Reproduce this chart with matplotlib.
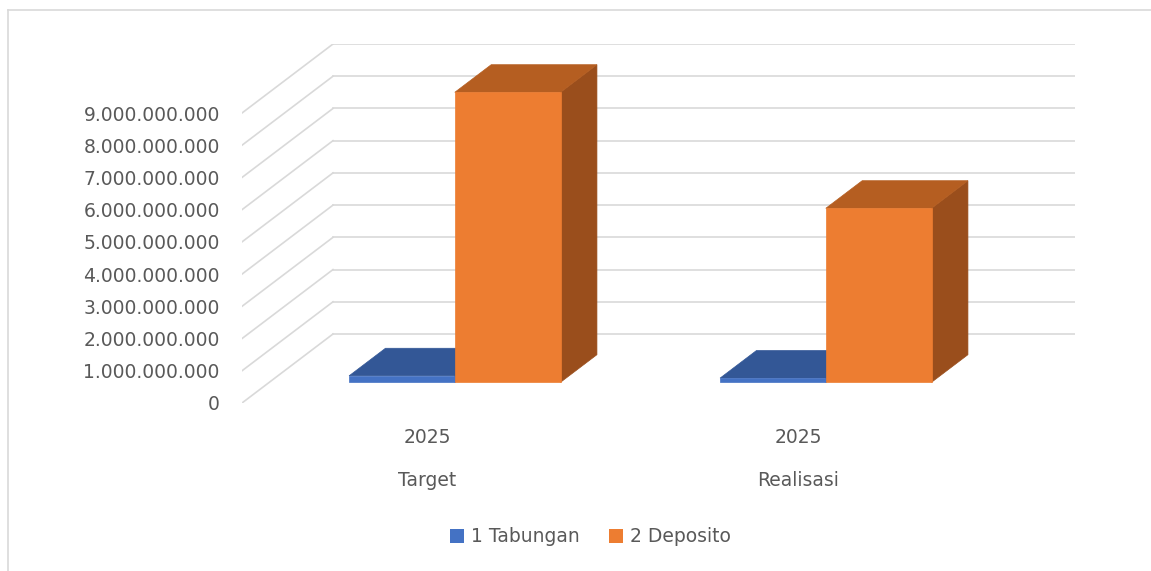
# -------------------------------------------------------------------
# plot.py: Excel-style 3D clustered column chart, Target vs Realisasi

import matplotlib
matplotlib.use('Agg')

import matplotlib.pyplot as plt
from matplotlib.patches import Polygon, Patch
from matplotlib.lines import Line2D
import numpy as np

# -------------------------------------------------------------------
# data
categories = ['Target', 'Realisasi']
years = ['2025', '2025']
series = ['1 Tabungan', '2 Deposito']
tabungan = [200_000_000, 130_000_000]
deposito = [9_000_000_000, 5_400_000_000]
y_ticks = [i * 1_000_000_000 for i in range(10)]

# colours (front, top, side)
faces = {
    '1 Tabungan': ('#4472C4', '#335796', '#2C4C84'),
    '2 Deposito': ('#ED7D31', '#B55E21', '#9A4E1C'),
}
grid_col = '#D9D9D9'
text_col = '#595959'

# -------------------------------------------------------------------
W, H = 1151, 571
fig = plt.figure(figsize=(W / 100, H / 100), dpi=100)
fig.patch.set_facecolor('white')

# depth of the 3D floor, in data units (x: categories, y: values)
ddx = 91 / 371
ddy = 69 / 32.22 * 1e9
ymax = y_ticks[-1]

ax = fig.add_axes([242 / W, (H - 403) / H, (1075 - 242) / W, (403 - 44) / H])
ax.set_xlim(0, len(categories) + ddx)
ax.set_ylim(0, ymax + ddy)
for s in ax.spines.values():
    s.set_visible(False)
ax.set_xticks([])
ax.set_yticks(y_ticks)
ax.set_yticklabels([f'{v:,}'.replace(',', '.') for v in y_ticks])
ax.tick_params(axis='y', length=0, pad=16, labelsize=13.5, labelcolor=text_col)

# walls: side diagonals and back horizontals
for v in y_ticks:
    ax.plot([0, ddx], [v, v + ddy], color=grid_col, lw=1.2, zorder=1)
    ax.plot([ddx, len(categories) + ddx], [v + ddy, v + ddy],
            color=grid_col, lw=1.2, zorder=1)


def bar3d(x0, w, h, d0, d1, cols):
    '''draw one box: front face, top face, right face'''
    fx, fy = d0 * ddx, d0 * ddy
    bx, by = d1 * ddx, d1 * ddy
    front = [(x0 + fx, fy), (x0 + w + fx, fy), (x0 + w + fx, h + fy), (x0 + fx, h + fy)]
    top = [(x0 + fx, h + fy), (x0 + w + fx, h + fy), (x0 + w + bx, h + by), (x0 + bx, h + by)]
    side = [(x0 + w + fx, fy), (x0 + w + bx, by), (x0 + w + bx, h + by), (x0 + w + fx, h + fy)]
    ax.add_patch(Polygon(side, closed=True, fc=cols[2], ec=cols[2], lw=0.5, zorder=3))
    ax.add_patch(Polygon(top, closed=True, fc=cols[1], ec=cols[1], lw=0.5, zorder=3))
    ax.add_patch(Polygon(front, closed=True, fc=cols[0], ec=cols[0], lw=0.5, zorder=3))


bw = 0.285
for i in range(len(categories)):
    c = i + 0.5
    bar3d(c - bw, bw, tabungan[i], 0.3, 0.7, faces['1 Tabungan'])
    bar3d(c, bw, deposito[i], 0.3, 0.7, faces['2 Deposito'])
    ax.annotate(years[i], xy=(c, 0), xytext=(0, -24.5), textcoords='offset points',
                ha='center', va='center', fontsize=13.5, color=text_col)
    ax.annotate(categories[i], xy=(c, 0), xytext=(0, -56), textcoords='offset points',
                ha='center', va='center', fontsize=13.5, color=text_col)

# legend
handles = [Patch(fc=faces[s][0], ec='none', label=s) for s in series]
fig.legend(handles=handles, loc='center', bbox_to_anchor=(0.513, (H - 537) / H),
           ncol=2, frameon=False, fontsize=13.5, labelcolor=text_col,
           handlelength=0.75, handleheight=0.75, handletextpad=0.35,
           columnspacing=1.6)

# chart border (left and top only visible)
fig.add_artist(Line2D([8 / W, 8 / W], [0, (H - 10) / H], color=grid_col, lw=1.2))
fig.add_artist(Line2D([8 / W, 1], [(H - 10) / H, (H - 10) / H], color=grid_col, lw=1.2))

fig.savefig('out.png', dpi=100)
